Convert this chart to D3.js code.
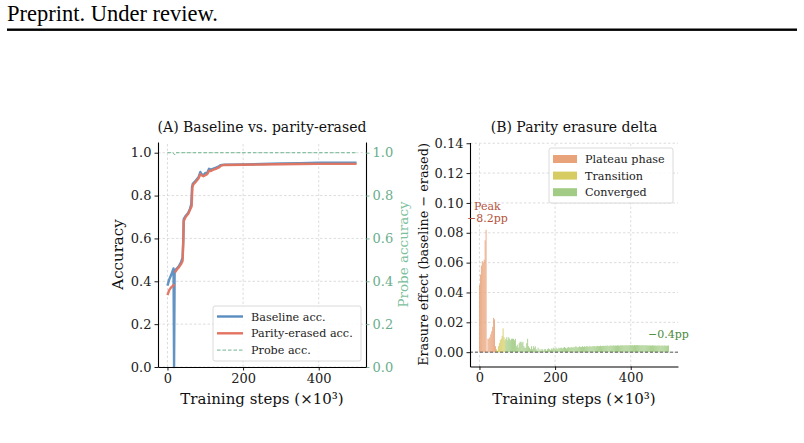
<!DOCTYPE html>
<html>
<head>
<meta charset="utf-8">
<script src="https://cdn.jsdelivr.net/npm/d3@7"></script>
<style>
body { margin: 0; background: #fff; }
text { font-family: "DejaVu Serif", serif; }
</style>
</head>
<body>
<div id="chart"></div>
<script>
// ---- data ----
const xTicks = [0, 200, 400];
const accTicks = [0, 0.2, 0.4, 0.6, 0.8, 1.0];
const deltaTicks = [0, 0.02, 0.04, 0.06, 0.08, 0.10, 0.12, 0.14];

const baselineSteps = [0, 5, 10, 16, 17.5, 19, 22, 30, 36, 40, 42, 43, 48, 55, 60, 63, 65, 67, 75, 82, 87, 90, 95, 100, 105, 110, 115, 120, 128, 135, 140, 150, 200, 250, 300, 350, 400, 450, 500];
const baselineAcc   = [0.38, 0.41, 0.43, 0.46, 0, 0.44, 0.455, 0.47, 0.49, 0.51, 0.60, 0.69, 0.705, 0.72, 0.74, 0.76, 0.84, 0.855, 0.87, 0.885, 0.91, 0.90, 0.895, 0.905, 0.905, 0.925, 0.92, 0.925, 0.93, 0.935, 0.942, 0.944, 0.945, 0.947, 0.95, 0.951, 0.953, 0.953, 0.953];

// null = missing evaluation (gap in the line)
const erasedSteps = [0, 5, 10, 15, 19, 19.2, 19.5, 25, 30, 36, 40, 42, 43, 48, 55, 60, 64, 66, 68, 75, 82, 87, 90, 95, 100, 105, 110, 115, 120, 128, 135, 142, 150, 200, 250, 300, 350, 400, 450, 500];
const erasedAcc   = [0.335, 0.36, 0.372, 0.38, 0.385, null, 0.44, 0.455, 0.465, 0.48, 0.495, 0.59, 0.68, 0.70, 0.715, 0.735, 0.75, 0.84, 0.85, 0.865, 0.88, 0.90, 0.895, 0.89, 0.895, 0.90, 0.915, 0.915, 0.92, 0.925, 0.93, 0.94, 0.943, 0.944, 0.945, 0.946, 0.947, 0.948, 0.948, 0.948];

const probeSteps = [0, 15, 19, 22, 500];
const probeAcc   = [1.0, 1.0, 0.99, 1.0, 1.0];

const evalStep = 2.5; // x10^3 steps between evaluations
const erasureDelta = [
  0.045, 0.052, 0.058, 0.061, 0.060, 0.062, 0.075, 0.082,
  0,
  0.009, 0.009, 0.010, 0.012, 0.014, 0.017, 0.023, 0.022,
  0.004,
  0.002, 0.001, 0.004, 0.006, 0.008, 0.009, 0.011, 0.016, 0.010, 0.008,
  0.009, 0.010, 0.008, 0.010, 0.009, 0.008, 0.009, 0.009, 0.009, 0.008, 0.009,
  0.004, 0.005, 0.003, 0.006, 0.007, 0.007, 0.006, 0.007, 0.004, 0.003, 0.003, 0.006,
  0.009, 0.004, 0.003, 0.002, 0.004, 0.002, 0.004, 0.003, 0.004, 0.002,
  0.001, 0.003, 0.001, 0.002, 0.001, 0.002, 0.002, 0.001, 0.002, 0.002,
  0.001, 0.002, 0.0025, 0.002, 0.0015, 0.0025, 0.002, 0.003, 0.0025, 0.002,
  0.003, 0.0025, 0.002, 0.003, 0.0025, 0.003, 0.003, 0.0025, 0.003, 0.0035,
  0.003, 0.0025, 0.003, 0.0035, 0.003, 0.003, 0.0035, 0.003, 0.0035, 0.003,
  0.0035, 0.004, 0.0035, 0.003, 0.0035, 0.004, 0.0035, 0.0035, 0.004, 0.0035,
  0.004, 0.0035, 0.004, 0.004, 0.0035, 0.004, 0.004, 0.0035, 0.004, 0.004,
  0.004, 0.0042, 0.0038, 0.004, 0.0043, 0.004, 0.0041, 0.0044, 0.004, 0.0042,
  0.0043, 0.0041, 0.0044, 0.0042, 0.0045, 0.0043, 0.0041, 0.0044, 0.0045, 0.0043,
  0.0044, 0.0046, 0.0043, 0.0045, 0.0044, 0.0046, 0.0045, 0.0043, 0.0046, 0.0045,
  0.0047, 0.0045, 0.0046, 0.0044, 0.0047, 0.0046, 0.0045, 0.0047, 0.0046, 0.0048,
  0.0046, 0.0047, 0.0045, 0.0048, 0.0046, 0.0047, 0.0048, 0.0046, 0.0047, 0.0045,
  0.0047, 0.0046, 0.0048, 0.0045, 0.0046, 0.0047, 0.0045, 0.0046, 0.0044, 0.0046,
  0.0045, 0.0044, 0.0046, 0.0045, 0.0044, 0.0045, 0.0043, 0.0045, 0.0044, 0.0045,
  0.0044, 0.0043, 0.0045, 0.0044, 0.0043, 0.0045, 0.0044, 0.0043, 0.0044, 0.0045
];
const phaseNames = ["Plateau phase", "Transition", "Converged"];
const phaseEnds = [43, 69, 500];
const peakLabel = ["Peak", "\u22128.2pp"];
const finalLabel = "\u22120.4pp";

// ---- styles ----
const width = 804, height = 443;
const blue = "#5a8dbf", red = "#e2735f", probeGreen = "#6fb592";
const phaseColors = ["#e9a37a", "#d6cc62", "#a2cc86"];
const gridColor = "#d4d4d4";

const svg = d3.select("#chart").append("svg")
  .attr("width", width).attr("height", height)
  .style("background", "#fff");

// page header
svg.append("text").attr("x", 7).attr("y", 20.5)
  .style("font-family", "'Liberation Serif', serif").style("font-size", "22.5px")
  .text("Preprint. Under review.");
svg.append("rect").attr("x", 7).attr("y", 28.5).attr("width", 790).attr("height", 2.4).attr("fill", "#000");

function styleAxis(g, color) {
  g.selectAll(".domain").attr("stroke", "#000").attr("stroke-width", 1.1);
  g.selectAll(".tick line").attr("stroke", color || "#000").attr("stroke-width", 0.9);
  g.selectAll(".tick text").style("font-size", "13px").attr("fill", color || "#222")
    .style("font-family", "'DejaVu Serif', serif");
}

function grid(g, x, y, xt, yt) {
  const [x0, x1] = x.range(), [y0, y1] = y.range();
  g.selectAll(".gx").data(xt).enter().append("line")
    .attr("x1", d => x(d)).attr("x2", d => x(d)).attr("y1", y0).attr("y2", y1)
    .attr("stroke", gridColor).attr("stroke-width", 0.8).attr("stroke-dasharray", "2.5,2");
  g.selectAll(".gy").data(yt).enter().append("line")
    .attr("x1", x0).attr("x2", x1).attr("y1", d => y(d)).attr("y2", d => y(d))
    .attr("stroke", gridColor).attr("stroke-width", 0.8).attr("stroke-dasharray", "2.5,2");
}

// ================= Panel A =================
const xA = d3.scaleLinear().domain([-25, 525]).range([158, 366]);
const yA = d3.scaleLinear().domain([0, 1.05]).range([367, 142]);
const gA = svg.append("g");
grid(gA, xA, yA, xTicks, accTicks);

const probe = probeSteps.map((s, i) => [s, probeAcc[i]]);
const base = baselineSteps.map((s, i) => [s, baselineAcc[i]]);
const erased = erasedSteps.map((s, i) => [s, erasedAcc[i]]);
const lineA = d3.line().defined(d => d[1] != null).x(d => xA(d[0])).y(d => yA(d[1]));

gA.append("path").datum(probe).attr("d", lineA).attr("fill", "none")
  .attr("stroke", probeGreen).attr("stroke-width", 1).attr("stroke-dasharray", "3.5,2");
gA.append("path").datum(base).attr("d", lineA).attr("fill", "none")
  .attr("stroke", blue).attr("stroke-width", 2.4).attr("stroke-linejoin", "round").attr("opacity", 0.95);
gA.append("path").datum(erased).attr("d", lineA).attr("fill", "none")
  .attr("stroke", red).attr("stroke-width", 2.4).attr("stroke-linejoin", "round").attr("opacity", 0.95);

const axLA = gA.append("g").attr("transform", "translate(158,0)")
  .call(d3.axisLeft(yA).tickValues(accTicks).tickFormat(d3.format(".1f")).tickSize(3.5).tickSizeOuter(0));
styleAxis(axLA);
const axRA = gA.append("g").attr("transform", "translate(366,0)")
  .call(d3.axisRight(yA).tickValues(accTicks).tickFormat(d3.format(".1f")).tickSize(3.5).tickSizeOuter(0));
styleAxis(axRA, "#6aae8c");
const axBA = gA.append("g").attr("transform", "translate(0,367)")
  .call(d3.axisBottom(xA).tickValues(xTicks).tickSize(3.5).tickSizeOuter(0));
styleAxis(axBA);

gA.append("text").attr("x", 262).attr("y", 132).attr("text-anchor", "middle")
  .style("font-size", "14px").attr("fill", "#111").text("(A) Baseline vs. parity-erased");
gA.append("text").attr("x", 262).attr("y", 404).attr("text-anchor", "middle")
  .style("font-size", "15px").attr("fill", "#111").text("Training steps (\u00d710\u00b3)");
gA.append("text").attr("transform", "translate(123,254.5) rotate(-90)").attr("text-anchor", "middle")
  .style("font-size", "15px").attr("fill", "#111").text("Accuracy");
gA.append("text").attr("transform", "translate(408,254.5) rotate(-90)").attr("text-anchor", "middle")
  .style("font-size", "13.5px").attr("fill", "#7dbf9c").text("Probe accuracy");

// legend A
const legA = gA.append("g").attr("transform", "translate(213,306)");
legA.append("rect").attr("width", 148).attr("height", 55).attr("rx", 2)
  .attr("fill", "#fff").attr("fill-opacity", 0.85).attr("stroke", "#d0d0d0").attr("stroke-width", 0.8);
const legItemsA = [
  { label: "Baseline acc.", color: blue, w: 2.4, dash: null },
  { label: "Parity-erased acc.", color: red, w: 2.4, dash: null },
  { label: "Probe acc.", color: probeGreen, w: 1, dash: "3.5,2" }
];
legItemsA.forEach((d, i) => {
  const yy = 10.5 + i * 16.8;
  legA.append("line").attr("x1", 4).attr("x2", 30).attr("y1", yy).attr("y2", yy)
    .attr("stroke", d.color).attr("stroke-width", d.w).attr("stroke-dasharray", d.dash);
  legA.append("text").attr("x", 38).attr("y", yy + 4).style("font-size", "11.2px").attr("fill", "#222").text(d.label);
});

// ================= Panel B =================
const xB = d3.scaleLinear().domain([-25, 525]).range([470, 678]);
const yB = d3.scaleLinear().domain([-0.0096, 0.1405]).range([366.5, 142.5]);
const gB = svg.append("g");
grid(gB, xB, yB, xTicks, deltaTicks);

const barW = 2.3;
const bars = erasureDelta.map((v, i) => ({ step: i * evalStep, v }));
const phaseOf = s => phaseEnds.findIndex(e => s <= e);
gB.selectAll(".bar").data(bars.filter(d => d.v > 0)).enter().append("rect")
  .attr("class", "bar")
  .attr("x", d => xB(d.step - barW / 2))
  .attr("width", xB(barW) - xB(0))
  .attr("y", d => yB(d.v))
  .attr("height", d => yB(0) - yB(d.v))
  .attr("fill", d => phaseColors[phaseOf(d.step)]);

gB.append("line").attr("x1", 470).attr("x2", 678).attr("y1", yB(0)).attr("y2", yB(0))
  .attr("stroke", "#444").attr("stroke-width", 0.9).attr("stroke-dasharray", "3,2");

const axLB = gB.append("g").attr("transform", "translate(470,0)")
  .call(d3.axisLeft(yB).tickValues(deltaTicks).tickFormat(d3.format(".2f")).tickSize(3.5).tickSizeOuter(0));
styleAxis(axLB);
const axBB = gB.append("g").attr("transform", "translate(0,366.5)")
  .call(d3.axisBottom(xB).tickValues(xTicks).tickSize(3.5).tickSizeOuter(0));
styleAxis(axBB);

gB.append("text").attr("x", 574).attr("y", 132).attr("text-anchor", "middle")
  .style("font-size", "14px").attr("fill", "#111").text("(B) Parity erasure delta");
gB.append("text").attr("x", 574).attr("y", 404).attr("text-anchor", "middle")
  .style("font-size", "15px").attr("fill", "#111").text("Training steps (\u00d710\u00b3)");
gB.append("text").attr("transform", "translate(428,254.5) rotate(-90)").attr("text-anchor", "middle")
  .style("font-size", "12.8px").attr("fill", "#111").text("Erasure effect (baseline \u2212 erased)");

// annotations
gB.append("text").attr("x", 474).attr("y", 210).style("font-size", "11px").attr("fill", "#b5533c").text(peakLabel[0]);
gB.append("text").attr("x", 467).attr("y", 221.5).style("font-size", "11px").attr("fill", "#b5533c").text(peakLabel[1]);
gB.append("text").attr("x", 648).attr("y", 337.5).style("font-size", "11px").attr("fill", "#4b8a3e").text(finalLabel);

// legend B
const legB = gB.append("g").attr("transform", "translate(549,148)");
legB.append("rect").attr("width", 124).attr("height", 55).attr("rx", 2)
  .attr("fill", "#fff").attr("fill-opacity", 0.85).attr("stroke", "#d0d0d0").attr("stroke-width", 0.8);
phaseNames.forEach((name, i) => {
  const yy = 11 + i * 16.6;
  legB.append("rect").attr("x", 4).attr("y", yy - 4).attr("width", 24).attr("height", 8).attr("fill", phaseColors[i]);
  legB.append("text").attr("x", 36).attr("y", yy + 4).style("font-size", "11.2px").attr("fill", "#222").text(name);
});
</script>
</body>
</html>
